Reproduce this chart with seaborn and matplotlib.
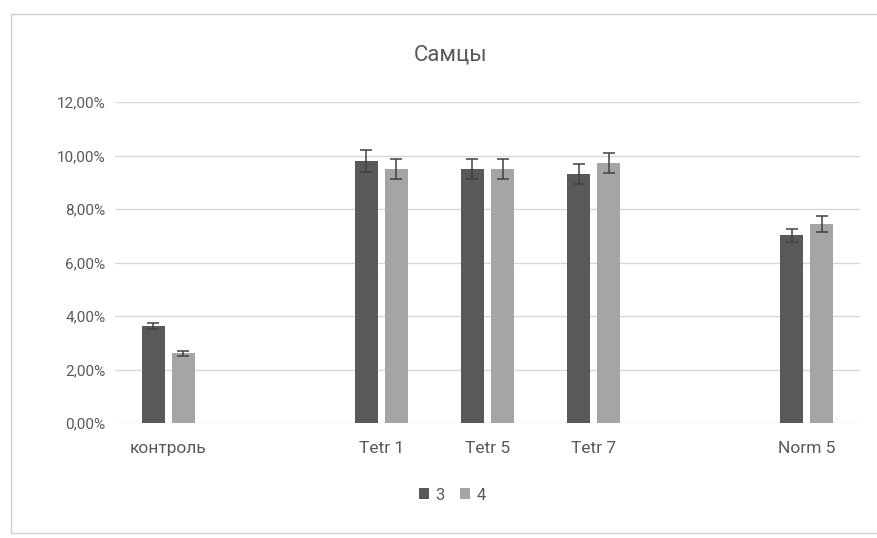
import matplotlib
matplotlib.use("Agg")
import matplotlib.pyplot as plt
import matplotlib.lines as mlines
from matplotlib.ticker import FuncFormatter
import seaborn as sns
import pandas as pd

# ---- data ----
categories = ["контроль", "Tetr 1", "Tetr 5", "Tetr 7", "Norm 5"]
slot_order = ["контроль", "", "Tetr 1", "Tetr 5", "Tetr 7", " ", "Norm 5"]
series_names = ["3", "4"]
values_3 = [0.0362, 0.0979, 0.0951, 0.0931, 0.0702]
values_4 = [0.0261, 0.0951, 0.0951, 0.0972, 0.0743]
errors_3 = [0.0010, 0.0040, 0.0037, 0.0039, 0.0025]
errors_4 = [0.0010, 0.0037, 0.0037, 0.0039, 0.0030]
y_ticks = [0.00, 0.02, 0.04, 0.06, 0.08, 0.10, 0.12]
title = "Самцы"

df = pd.DataFrame({
    "cat": categories * 2,
    "series": [series_names[0]] * len(categories) + [series_names[1]] * len(categories),
    "value": values_3 + values_4,
    "err": errors_3 + errors_4,
})

sns.set_theme(style="white")
plt.rcParams["font.family"] = ["Roboto", "DejaVu Sans"]

text_color = "#595959"
colors = {"3": "#595959", "4": "#a5a5a5"}

fig = plt.figure(figsize=(8.78, 5.38), dpi=100)
ax = fig.add_axes([115 / 878, 1 - 423 / 538, (860 - 115) / 878, (423 - 102) / 538])

sns.barplot(data=df, x="cat", y="value", hue="series", order=slot_order,
            hue_order=series_names, palette=colors, width=0.564, gap=0.234,
            errorbar=None, ax=ax, saturation=1, linewidth=0)

# error bars at bar positions
for cont, name in zip(ax.containers, series_names):
    sub = df[df["series"] == name].copy()
    sub["pos"] = sub["cat"].map(lambda c: slot_order.index(c))
    sub = sub.sort_values("pos")
    bars = sorted([b for b in cont.patches], key=lambda b: b.get_x())
    xs = [b.get_x() + b.get_width() / 2 for b in bars]
    ax.errorbar(xs, sub["value"].values, yerr=sub["err"].values, fmt="none",
                ecolor="#404040", elinewidth=1.1, capsize=4, capthick=1.1, zorder=5)

ax.set_xlim(-0.5, len(slot_order) - 0.5)
ax.set_ylim(0, 0.12)
ax.set_yticks(y_ticks)
ax.yaxis.set_major_formatter(FuncFormatter(lambda v, p: f"{v * 100:.2f}%".replace(".", ",")))
ax.grid(axis="y", color="#d9d9d9", linewidth=1)
ax.set_axisbelow(True)
for s in ax.spines.values():
    s.set_visible(False)
ax.tick_params(axis="both", length=0, colors=text_color)
ax.tick_params(axis="x", pad=13, labelsize=12.5)
ax.tick_params(axis="y", pad=7, labelsize=11)
ax.set_xlabel("")
ax.set_ylabel("")

# title
fig.text(451 / 878, 1 - 55 / 538, title, ha="center", va="center",
         fontsize=16, color=text_color)

# legend
handles, labels = ax.get_legend_handles_labels()
ax.legend_.remove()
fig.legend(handles, labels, loc="center", bbox_to_anchor=(452 / 878, 1 - 495 / 538),
           ncol=2, frameon=False, fontsize=12, handlelength=0.6, handleheight=0.6,
           columnspacing=0.9, handletextpad=0.4, labelcolor=text_color)

# chart-area border
bc = "#d0d0d0"
fig.add_artist(mlines.Line2D([11 / 878, 11 / 878], [1 - 14 / 538, 1 - 533 / 538],
                             transform=fig.transFigure, color=bc, lw=1))
fig.add_artist(mlines.Line2D([11 / 878, 1], [1 - 14 / 538, 1 - 14 / 538],
                             transform=fig.transFigure, color=bc, lw=1))
fig.add_artist(mlines.Line2D([11 / 878, 1], [1 - 533 / 538, 1 - 533 / 538],
                             transform=fig.transFigure, color=bc, lw=1))

fig.savefig("out.png", dpi=100)
